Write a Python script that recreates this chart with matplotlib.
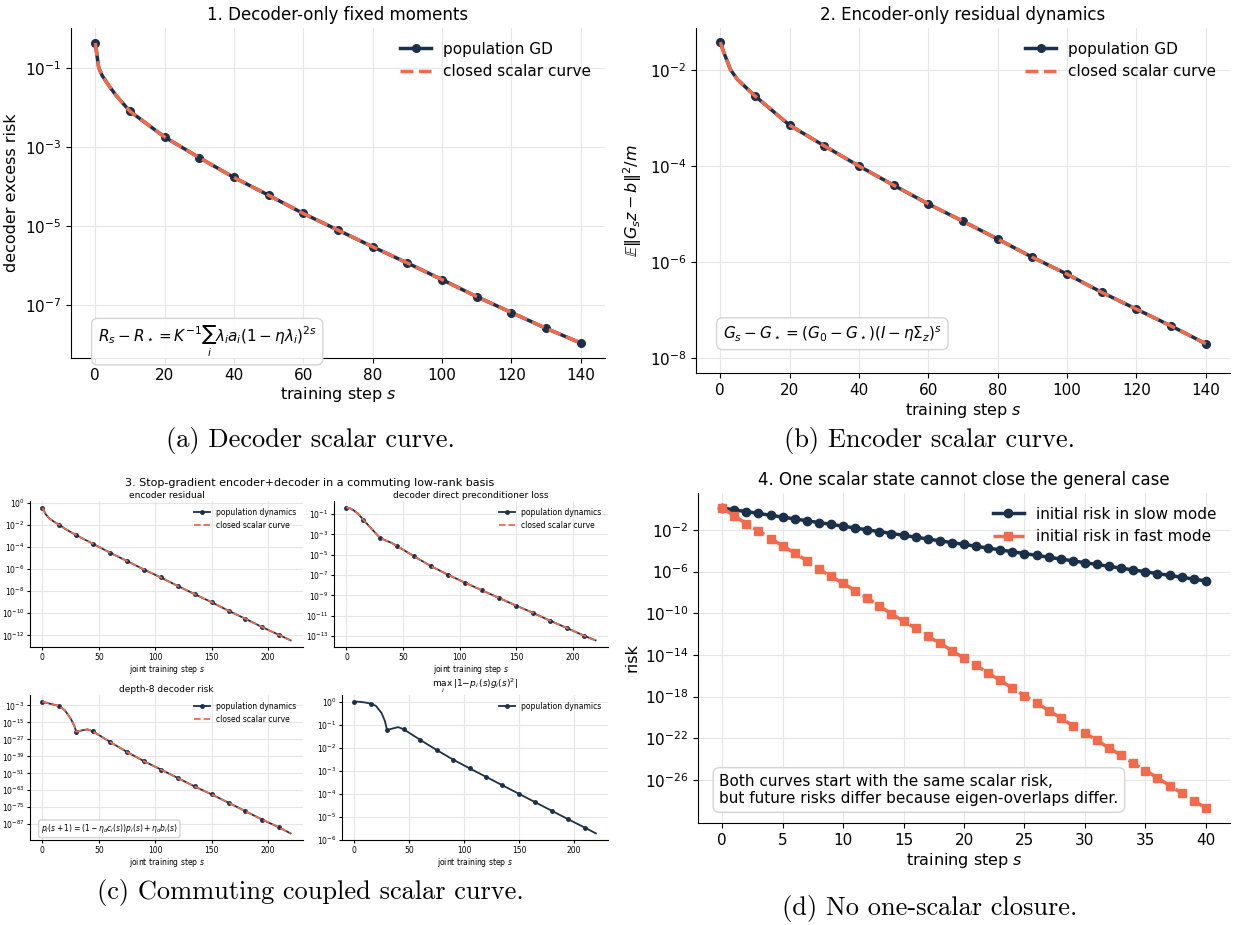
import numpy as np
import matplotlib
matplotlib.use("Agg")
import matplotlib.pyplot as plt
from matplotlib.ticker import NullLocator

NAVY = "#1b3049"
ORANGE = "#f06a4c"

# panel 1: decoder-only fixed moments (log10 of risk)
dec_steps = [0, 1, 2, 4, 6, 10, 20, 30, 40, 50, 60, 70, 80, 90, 100, 110, 120, 130, 140]
dec_log = [-0.375, -1.0, -1.2, -1.46, -1.7, -2.1, -2.75, -3.27, -3.77, -4.22, -4.68,
           -5.1, -5.52, -5.93, -6.35, -6.78, -7.18, -7.58, -7.95]

# panel 2: encoder-only residual dynamics
enc_steps = [0, 1, 3, 5, 10, 20, 30, 40, 50, 60, 70, 80, 90, 100, 110, 120, 130, 140]
enc_log = [-1.42, -1.63, -2.0, -2.2, -2.54, -3.15, -3.58, -4.0, -4.4, -4.79, -5.15,
           -5.52, -5.9, -6.25, -6.63, -6.98, -7.33, -7.7]

# panel 3: commuting coupled basis, joint training
joint_steps = [0, 3, 6, 10, 15, 20, 25, 28, 30, 35, 40, 45, 60, 75, 90, 105, 120,
               135, 150, 165, 180, 195, 210, 220]
enc_res_log = [-0.44, -1.05, -1.4, -1.7, -2.0, -2.35, -2.65, -2.82, -2.92, -3.2, -3.46,
               -3.72, -4.52, -5.27, -6.04, -6.76, -7.53, -8.27, -9.0, -9.77, -10.5,
               -11.26, -11.97, -12.45]
dec_pre_log = [-0.38, -0.45, -0.62, -0.95, -1.58, -2.2, -2.8, -3.15, -3.36, -3.62, -3.85,
               -4.17, -5.18, -6.15, -6.99, -7.77, -8.52, -9.27, -10.01, -10.73, -11.5,
               -12.22, -12.97, -13.42]
depth8_log = [-0.24, -0.9, -1.6, -2.4, -3.4, -6.5, -12.2, -16.8, -21.6, -20.6, -19.9,
              -21.4, -28.8, -35.9, -42.4, -48.3, -54.3, -60.3, -65.9, -71.8, -77.8,
              -83.8, -89.3, -93.5]
maxgap_log = [0.0, -0.005, -0.015, -0.04, -0.085, -0.19, -0.5, -0.84, -1.24, -1.17, -1.11,
              -1.2, -1.66, -2.1, -2.52, -2.9, -3.27, -3.64, -4.01, -4.38, -4.75, -5.12,
              -5.48, -5.73]

# panel 4: slow vs fast mode
mode_steps = list(range(41))
slow_log = [0.1, -0.08, -0.25, -0.42, -0.6, -0.77, -0.95, -1.12, -1.3, -1.47, -1.65,
            -1.82, -2.0, -2.17, -2.35, -2.52, -2.7, -2.87, -3.05, -3.22, -3.4, -3.57,
            -3.75, -3.92, -4.1, -4.27, -4.45, -4.62, -4.8, -4.97, -5.15, -5.32, -5.5,
            -5.67, -5.85, -6.02, -6.2, -6.37, -6.55, -6.72, -6.9]
fast_log = [0.1, -0.66, -1.4, -2.1, -2.83, -3.53, -4.23, -4.96, -5.76, -6.46, -7.13,
            -7.83, -8.53, -9.33, -10.06, -10.77, -11.44, -12.23, -12.87, -13.6, -14.3,
            -15.0, -15.75, -16.45, -17.2, -17.9, -18.6, -19.35, -20.05, -20.8, -21.5,
            -22.2, -22.95, -23.65, -24.4, -25.1, -25.8, -26.55, -27.25, -28.0, -28.7]

captions = ["(a) Decoder scalar curve.", "(b) Encoder scalar curve.",
            "(c) Commuting coupled scalar curve.", "(d) No one-scalar closure."]

W, H = 1234, 925


def box(l, t, r, b):
    return [l / W, 1 - b / H, (r - l) / W, (b - t) / H]


def style(ax, fs):
    ax.set_yscale("log")
    ax.spines["top"].set_visible(False)
    ax.spines["right"].set_visible(False)
    ax.grid(True, color="#e6e6e6", lw=0.8)
    ax.set_axisbelow(True)
    ax.yaxis.set_minor_locator(NullLocator())
    ax.tick_params(labelsize=fs)


def every(steps, k):
    return [i for i, s in enumerate(steps) if s % k == 0]


def pair_plot(ax, steps, logs, k, lw, ms, label_a, label_b=None):
    vals = 10.0 ** np.array(logs)
    ax.plot(steps, vals, color=NAVY, lw=lw, marker="o", ms=ms,
            markevery=every(steps, k), label=label_a)
    if label_b:
        ax.plot(steps, vals, color=ORANGE, lw=lw, ls="--", label=label_b)


fig = plt.figure(figsize=(12.34, 9.25), dpi=100)
bbox = dict(boxstyle="round,pad=0.4", fc="white", ec="#d0d0d0", alpha=0.9)

# 1
ax1 = fig.add_axes(box(71, 28, 605, 358))
style(ax1, 11)
pair_plot(ax1, dec_steps, dec_log, 10, 2.5, 5.5, "population GD", "closed scalar curve")
ax1.set_yticks([1e-1, 1e-3, 1e-5, 1e-7])
ax1.set_xticks(range(0, 141, 20))
ax1.set_title("1. Decoder-only fixed moments", fontsize=12, pad=6)
ax1.set_xlabel("training step $s$", fontsize=11.5, labelpad=2)
ax1.set_ylabel("decoder excess risk", fontsize=11.5)
ax1.legend(loc="upper right", frameon=False, fontsize=11)
ax1.text(0.05, 0.05, r"$R_s - R_\star = K^{-1}\sum_i \lambda_i a_i (1-\eta\lambda_i)^{2s}$",
         transform=ax1.transAxes, fontsize=11, bbox=bbox)

# 2
ax2 = fig.add_axes(box(696, 28, 1230, 373))
style(ax2, 11)
pair_plot(ax2, enc_steps, enc_log, 10, 2.5, 5.5, "population GD", "closed scalar curve")
ax2.set_yticks([1e-2, 1e-4, 1e-6, 1e-8])
ax2.set_ylim(10 ** -8.31, 10 ** -1.125)
ax2.set_xticks(range(0, 141, 20))
ax2.set_title("2. Encoder-only residual dynamics", fontsize=12, pad=6)
ax2.set_xlabel("training step $s$", fontsize=11.5, labelpad=2)
ax2.set_ylabel(r"$\mathbb{E}\|G_s z - b\|^2/m$", fontsize=11.5)
ax2.legend(loc="upper right", frameon=False, fontsize=11)
ax2.text(0.05, 0.1, r"$G_s - G_\star = (G_0 - G_\star)(I - \eta\Sigma_z)^s$",
         transform=ax2.transAxes, fontsize=11, bbox=bbox)

# 3
fs3 = 5.5
c1 = fig.add_axes(box(30, 501, 303, 647))
c2 = fig.add_axes(box(334, 501, 608, 647))
c3 = fig.add_axes(box(30, 695, 303, 840))
c4 = fig.add_axes(box(342, 695, 608, 840))
for ax, logs, title, ticks in [
        (c1, enc_res_log, "encoder residual", [10.0 ** e for e in range(0, -13, -2)]),
        (c2, dec_pre_log, "decoder direct preconditioner loss", [10.0 ** e for e in range(-1, -14, -2)]),
        (c3, depth8_log, "depth-8 decoder risk", [10.0 ** e for e in range(-3, -88, -12)])]:
    style(ax, fs3)
    ax.tick_params(length=2.5, pad=1.5)
    pair_plot(ax, joint_steps, logs, 15, 1.3, 2.5, "population dynamics", "closed scalar curve")
    ax.set_yticks(ticks)
    ax.set_title(title, fontsize=6.5, pad=2)
    ax.set_xlabel("joint training step $s$", fontsize=5.5, labelpad=1)
    ax.legend(loc="upper right", frameon=False, fontsize=5.5)
style(c4, fs3)
c4.tick_params(length=2.5, pad=1.5)
pair_plot(c4, joint_steps, maxgap_log, 15, 1.3, 2.5, "population dynamics")
c4.set_yticks([10.0 ** e for e in range(0, -7, -1)])
c4.set_title(r"$\max_i\, |1 - p_i(s) g_i(s)^2|$", fontsize=6.5, pad=1)
c4.set_xlabel("joint training step $s$", fontsize=5.5, labelpad=1)
c4.legend(loc="upper right", frameon=False, fontsize=5.5)
c3.text(0.04, 0.06, r"$p_i(s+1) = (1-\eta_d c_i(s))p_i(s) + \eta_d b_i(s)$",
        transform=c3.transAxes, fontsize=5.5,
        bbox=dict(boxstyle="round,pad=0.3", fc="white", ec="#d0d0d0", alpha=0.9))
fig.text(310 / W, 1 - 483 / H, "3. Stop-gradient encoder+decoder in a commuting low-rank basis",
         ha="center", va="center", fontsize=8)

# 4
ax4 = fig.add_axes(box(698, 493, 1230, 823))
style(ax4, 11)
ax4.plot(mode_steps, 10.0 ** np.array(slow_log), color=NAVY, lw=2.5, marker="o", ms=6,
         label="initial risk in slow mode")
ax4.plot(mode_steps, 10.0 ** np.array(fast_log), color=ORANGE, lw=2.5, ls="--", marker="s",
         ms=6, label="initial risk in fast mode")
ax4.set_yticks([10.0 ** e for e in range(-2, -27, -4)])
ax4.set_xticks(range(0, 41, 5))
ax4.set_title("4. One scalar state cannot close the general case", fontsize=12, pad=6)
ax4.set_xlabel("training step $s$", fontsize=11.5, labelpad=2)
ax4.set_ylabel("risk", fontsize=11.5)
ax4.legend(loc="upper right", frameon=False, fontsize=11)
ax4.text(0.04, 0.06, "Both curves start with the same scalar risk,\n"
         "but future risks differ because eigen-overlaps differ.",
         transform=ax4.transAxes, fontsize=11, bbox=bbox)

# captions
for (x, y), cap in zip([(310, 440), (930, 440), (310, 893), (930, 908)], captions):
    fig.text(x / W, 1 - y / H, cap, ha="center", va="center", fontsize=19, family="cmr10")

fig.savefig("out.png", dpi=100)
